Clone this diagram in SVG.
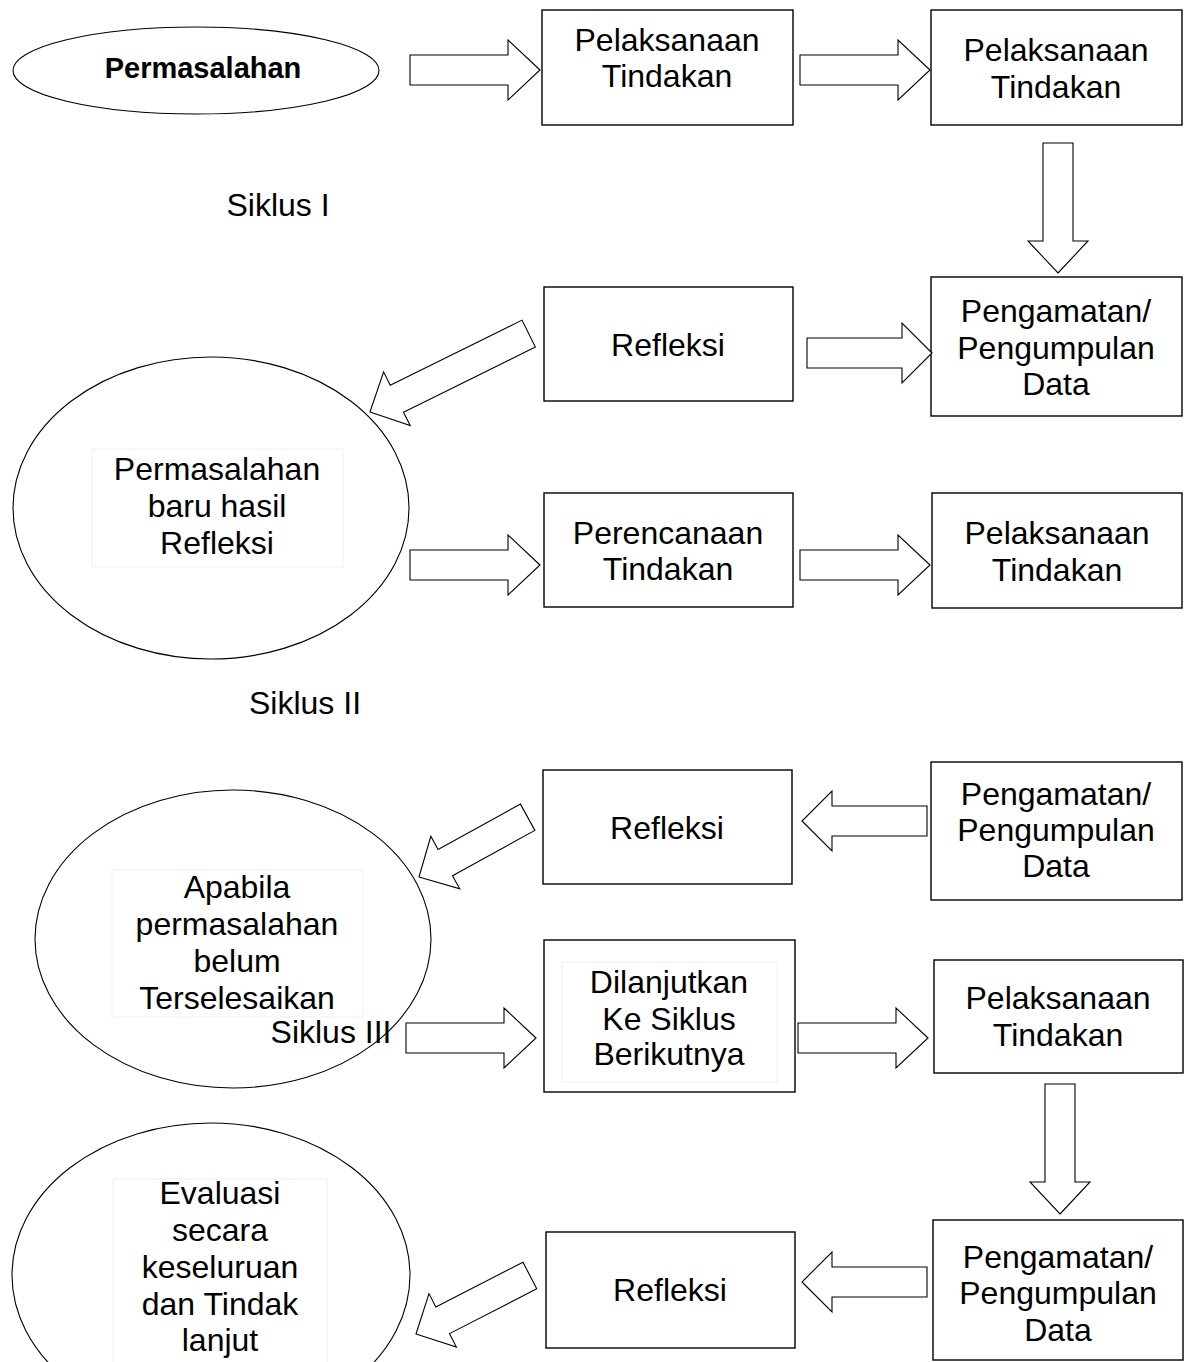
<svg xmlns="http://www.w3.org/2000/svg" width="1188" height="1362" viewBox="0 0 1188 1362">
<style>
.box{fill:#fff;stroke:#000;stroke-width:1.4}
.ell{fill:#fff;stroke:#000;stroke-width:1.1}
.tb{fill:none;stroke:#f0f0f0;stroke-width:1}
.arr{fill:#fff;stroke:#000;stroke-width:1.1;stroke-linejoin:miter}
text{font-family:"Liberation Sans",Arial,sans-serif;font-size:32px;fill:#000;text-anchor:middle}
.b{font-weight:bold;font-size:29px}
</style>
<defs>
<path id="a130" d="M0,0 L-32,-30 L-32,-15 L-130,-15 L-130,15 L-32,15 L-32,30 Z"/>
<path id="a125" d="M0,0 L-30,-30 L-30,-15 L-125,-15 L-125,15 L-30,15 L-30,30 Z"/>
<path id="a177" d="M0,0 L-30,-30 L-30,-15 L-177,-15 L-177,15 L-30,15 L-30,30 Z"/>
<path id="a124" d="M0,0 L-30,-30 L-30,-15 L-124,-15 L-124,15 L-30,15 L-30,30 Z"/>
<path id="a128" d="M0,0 L-30,-30 L-30,-15 L-128,-15 L-128,15 L-30,15 L-30,30 Z"/>
</defs>
<rect width="1188" height="1362" fill="#fff"/>

<g id="n-permasalahan">
<ellipse class="ell" cx="196" cy="70.5" rx="183" ry="43.5"/>
<text class="b" x="203" y="78">Permasalahan</text>
</g>
<g id="n-pelaksanaan1">
<rect class="box" x="542" y="10" width="251" height="115"/>
<text x="667" y="51">Pelaksanaan</text>
<text x="667" y="87">Tindakan</text>
</g>
<g id="n-pelaksanaan2">
<rect class="box" x="931" y="10" width="251" height="115"/>
<text x="1056" y="61">Pelaksanaan</text>
<text x="1056" y="98">Tindakan</text>
</g>
<text id="siklus1" x="278" y="216">Siklus I</text>
<g id="n-pengamatan1">
<rect class="box" x="931" y="277" width="251" height="139"/>
<text x="1056" y="322">Pengamatan/</text>
<text x="1056" y="359">Pengumpulan</text>
<text x="1056" y="395">Data</text>
</g>
<g id="n-refleksi1">
<rect class="box" x="544" y="287" width="249" height="114"/>
<text x="668" y="356">Refleksi</text>
</g>
<g id="n-permasalahan-baru">
<ellipse class="ell" cx="211" cy="508" rx="198" ry="151"/>
<rect class="tb" x="92" y="449" width="251" height="118"/>
<text x="217" y="480">Permasalahan</text>
<text x="217" y="517">baru hasil</text>
<text x="217" y="554">Refleksi</text>
</g>
<g id="n-perencanaan">
<rect class="box" x="544" y="493" width="249" height="114"/>
<text x="668" y="544">Perencanaan</text>
<text x="668" y="580">Tindakan</text>
</g>
<g id="n-pelaksanaan3">
<rect class="box" x="932" y="493" width="250" height="115"/>
<text x="1057" y="544">Pelaksanaan</text>
<text x="1057" y="581">Tindakan</text>
</g>
<text id="siklus2" x="305" y="714">Siklus II</text>
<g id="n-pengamatan2">
<rect class="box" x="931" y="762" width="251" height="138"/>
<text x="1056" y="805">Pengamatan/</text>
<text x="1056" y="841">Pengumpulan</text>
<text x="1056" y="877">Data</text>
</g>
<g id="n-refleksi2">
<rect class="box" x="543" y="770" width="249" height="114"/>
<text x="667" y="839">Refleksi</text>
</g>
<g id="n-apabila">
<ellipse class="ell" cx="233" cy="939" rx="198" ry="149"/>
<rect class="tb" x="112" y="870" width="251" height="147"/>
<text x="237" y="898">Apabila</text>
<text x="237" y="935">permasalahan</text>
<text x="237" y="972">belum</text>
<text x="237" y="1009">Terselesaikan</text>
</g>
<text id="siklus3" x="331" y="1043">Siklus III</text>
<g id="n-dilanjutkan">
<rect class="box" x="544" y="940" width="251" height="152"/>
<rect class="tb" x="562" y="962" width="215" height="120"/>
<text x="669" y="993">Dilanjutkan</text>
<text x="669" y="1030">Ke Siklus</text>
<text x="669" y="1065">Berikutnya</text>
</g>
<g id="n-pelaksanaan4">
<rect class="box" x="934" y="960" width="249" height="113"/>
<text x="1058" y="1009">Pelaksanaan</text>
<text x="1058" y="1046">Tindakan</text>
</g>
<g id="n-pengamatan3">
<rect class="box" x="933" y="1220" width="250" height="140"/>
<text x="1058" y="1268">Pengamatan/</text>
<text x="1058" y="1304">Pengumpulan</text>
<text x="1058" y="1341">Data</text>
</g>
<g id="n-refleksi3">
<rect class="box" x="546" y="1232" width="249" height="116"/>
<text x="670" y="1301">Refleksi</text>
</g>
<g id="n-evaluasi">
<ellipse class="ell" cx="211" cy="1275" rx="199" ry="152"/>
<rect class="tb" x="113" y="1179" width="214" height="190"/>
<text x="220" y="1204">Evaluasi</text>
<text x="220" y="1241">secara</text>
<text x="220" y="1278">keseluruan</text>
<text x="220" y="1315">dan Tindak</text>
<text x="220" y="1351">lanjut</text>
</g>

<g id="connectors" class="arr">
<use href="#a130" transform="translate(540,70)"/>
<use href="#a130" transform="translate(930,70)"/>
<use href="#a130" transform="translate(1058,273) rotate(90)"/>
<use href="#a125" transform="translate(932,353)"/>
<use href="#a177" transform="translate(370,412) rotate(153.7)"/>
<use href="#a130" transform="translate(540,565)"/>
<use href="#a130" transform="translate(930,565)"/>
<use href="#a125" transform="translate(802,821) rotate(180)"/>
<use href="#a124" transform="translate(419,877) rotate(151.2)"/>
<use href="#a130" transform="translate(536,1038)"/>
<use href="#a130" transform="translate(928,1038)"/>
<use href="#a130" transform="translate(1060,1214) rotate(90)"/>
<use href="#a125" transform="translate(802,1282) rotate(180)"/>
<use href="#a128" transform="translate(416,1334) rotate(152.8)"/>
</g>
</svg>
